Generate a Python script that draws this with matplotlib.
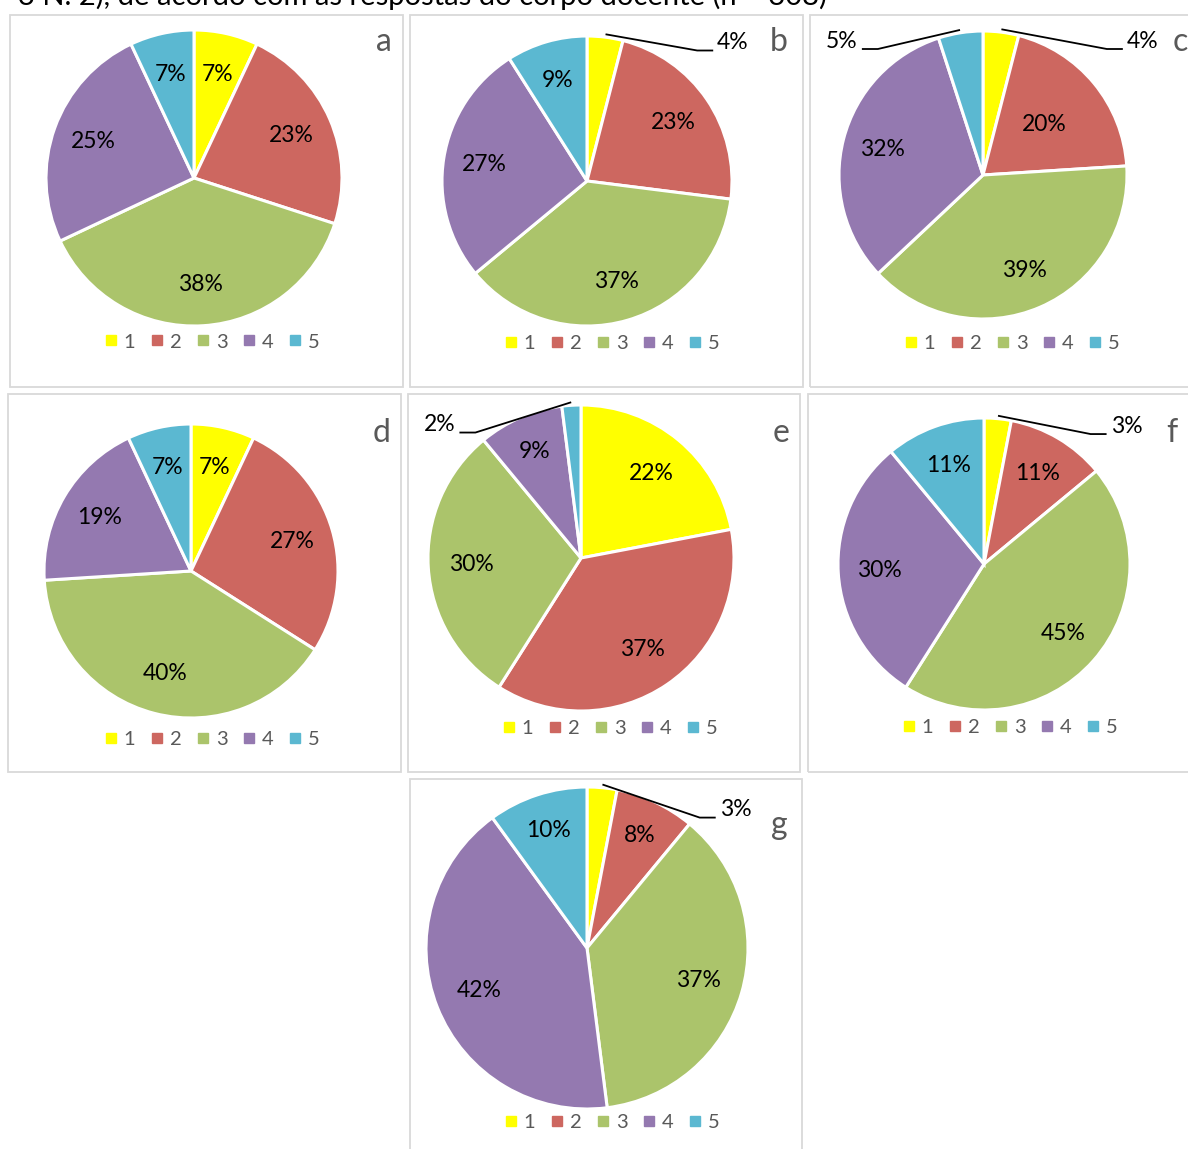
import numpy as np
import matplotlib
matplotlib.use('Agg')
import matplotlib.pyplot as plt
from matplotlib.patches import Rectangle
from matplotlib.lines import Line2D

plt.rcParams['font.family'] = ['Lato', 'DejaVu Sans']

# dados (% de respostas 1..5 em cada painel)
categorias = ['1', '2', '3', '4', '5']
cores = ['#FFFF00', '#CD6760', '#ABC46B', '#9479B0', '#5BB8D1']
valores_a = [7, 23, 38, 25, 7]
valores_b = [4, 23, 37, 27, 9]
valores_c = [4, 20, 39, 32, 5]
valores_d = [7, 27, 40, 19, 7]
valores_e = [22, 37, 30, 9, 2]
valores_f = [3, 11, 45, 30, 11]
valores_g = [3, 8, 37, 42, 10]
letras = ['a', 'b', 'c', 'd', 'e', 'f', 'g']
titulo = '3 N. 2), de acordo com as respostas do corpo docente (n = 308)'

W, H = 1188, 1149

# layout em pixels: caixa do painel, centro e raio da pizza, letra, legenda
paineis = {
    'a': dict(box=(10, 15, 403, 387), c=(194, 178), r=148, letra=(384, 42), leg=(212, 342)),
    'b': dict(box=(410, 15, 803, 387), c=(587, 181), r=145, letra=(779, 42), leg=(612, 343)),
    'c': dict(box=(810, 15, 1200, 387), c=(983, 175), r=144, letra=(1180, 42), leg=(1012, 343)),
    'd': dict(box=(8, 394, 401, 772), c=(191, 571), r=147, letra=(382, 433), leg=(212, 739)),
    'e': dict(box=(408, 394, 800, 772), c=(581, 558), r=153, letra=(781, 433), leg=(610, 728)),
    'f': dict(box=(808, 394, 1200, 772), c=(984, 564), r=146, letra=(1172, 433), leg=(1010, 727)),
    'g': dict(box=(410, 779, 802, 1160), c=(587, 948), r=161, letra=(779, 825), leg=(612, 1122)),
}
valores = dict(a=valores_a, b=valores_b, c=valores_c, d=valores_d,
               e=valores_e, f=valores_f, g=valores_g)

# rótulos externos com linha de chamada: indice -> cotovelo (em raios), lado
chamadas = {
    'b': {0: ((0.76, 0.90), 1)},
    'c': {0: ((0.86, 0.875), 1), 4: ((-0.73, 0.875), -1)},
    'e': {4: ((-0.69, 0.82), -1)},
    'f': {0: ((0.73, 0.89), 1)},
    'g': {0: ((0.70, 0.81), 1)},
}
dist_rotulo = {('c', 1): 0.55, ('e', 3): 0.76, ('g', 1): 0.77, ('g', 4): 0.77}


def fx(x):
    return x / W


def fy(y):
    return 1 - y / H


fig = plt.figure(figsize=(W / 100, H / 100), dpi=100)

fig.text(fx(18), fy(5), titulo, fontsize=21, va='baseline', ha='left', color='black')

for letra in letras:
    p = paineis[letra]
    x0, y0, x1, y1 = p['box']
    fig.add_artist(Rectangle((fx(x0), fy(y1)), (x1 - x0) / W, (y1 - y0) / H,
                             transform=fig.transFigure, fill=False,
                             ec='#D9D9D9', lw=1.3))
    cx, cy = p['c']
    r = p['r']
    ax = fig.add_axes([fx(cx - r), fy(cy + r), 2 * r / W, 2 * r / H])
    vals = valores[letra]
    wedges, _ = ax.pie(vals, colors=cores, startangle=90, counterclock=False,
                       radius=1, wedgeprops=dict(edgecolor='white', linewidth=2.2))
    ax.set_xlim(-1, 1)
    ax.set_ylim(-1, 1)
    ax.axis('off')

    for i, w in enumerate(wedges):
        ang = np.deg2rad((w.theta1 + w.theta2) / 2)
        txt = f'{vals[i]}%'
        if i in chamadas.get(letra, {}):
            (ex, ey), lado = chamadas[letra][i]
            sx, sy = 1.02 * np.cos(ang), 1.02 * np.sin(ang)
            fim = ex + lado * 16 / r
            ax.plot([sx, ex, fim], [sy, ey, ey], color='black', lw=1.3,
                    clip_on=False, solid_capstyle='butt')
            ax.text(fim + lado * 4 / r, ey + 8 / r, txt, fontsize=16.5,
                    ha='left' if lado > 0 else 'right', va='center', clip_on=False)
        else:
            d = dist_rotulo.get((letra, i), 0.72)
            ax.text(d * np.cos(ang), d * np.sin(ang), txt, fontsize=16.5,
                    ha='center', va='center')

    lx, ly = p['letra']
    fig.text(fx(lx), fy(ly), letra, fontsize=23, color='#595959',
             ha='center', va='center')

    handles = [Line2D([], [], marker='s', ls='', markersize=7, color=c) for c in cores]
    lgx, lgy = p['leg']
    fig.legend(handles, categorias, ncol=5, frameon=False, loc='center',
               bbox_to_anchor=(fx(lgx), fy(lgy)), bbox_transform=fig.transFigure,
               fontsize=14.5, labelcolor='#595959', handlelength=0.6,
               handletextpad=0.35, columnspacing=0.75, borderpad=0)

fig.savefig('out.png', dpi=100)
